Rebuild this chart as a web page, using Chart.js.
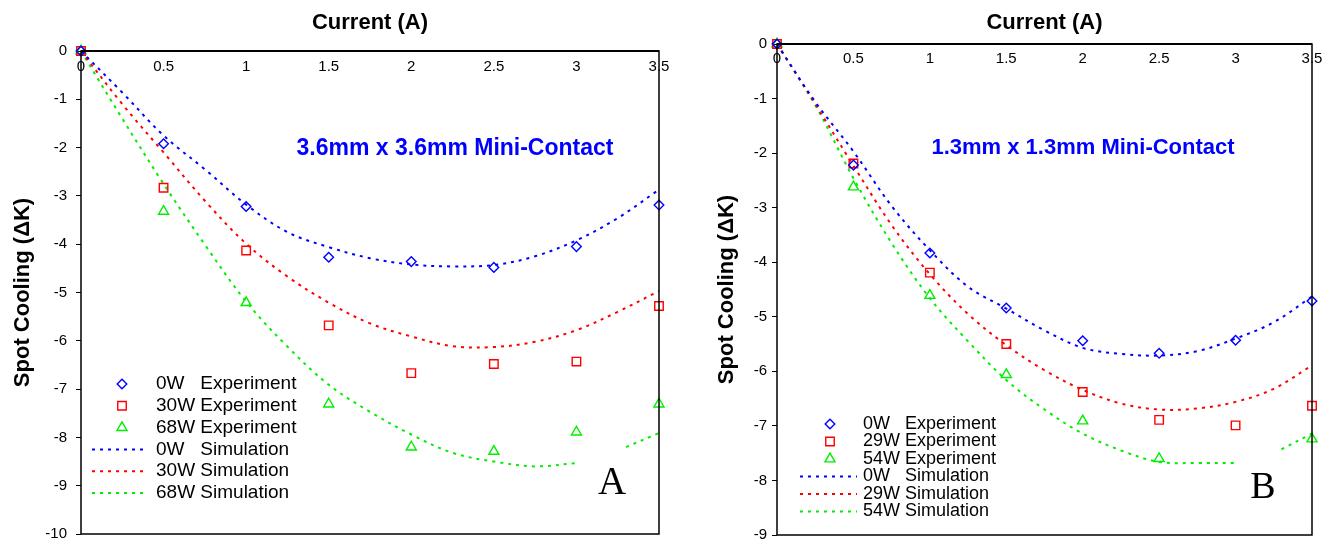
<!DOCTYPE html>
<html>
<head>
<meta charset="utf-8">
<title>Spot Cooling vs Current</title>
<script src="https://cdn.jsdelivr.net/npm/chart.js@4.4.1/dist/chart.umd.min.js"></script>
<style>
  html, body { margin: 0; padding: 0; background: #fff; }
  #wrap { position: relative; width: 1332px; height: 543px; overflow: hidden; }
  #chartA { position: absolute; left: 0; top: 0; }
  #chartB { position: absolute; left: 690px; top: 0; }
</style>
</head>
<body>
<div id="wrap">
  <canvas id="chartA" width="690" height="543"></canvas>
  <canvas id="chartB" width="642" height="543"></canvas>
</div>
<script>
// ===== DATA =====
const currents = [0, 0.5, 1, 1.5, 2, 2.5, 3, 3.5];
const simCurrents = [0, 0.25, 0.5, 0.75, 1, 1.25, 1.5, 1.75, 2, 2.25, 2.5, 2.75, 3, 3.25, 3.5];
// the hottest simulation curve has a break between 3.0 and 3.3 A
const simCurrentsSplit = [0, 0.25, 0.5, 0.75, 1, 1.25, 1.5, 1.75, 2, 2.25, 2.5, 2.75, 3, 3.15, 3.3, 3.5];

// panel A : 3.6mm x 3.6mm
const expA0W = [0, -1.92, -3.22, -4.27, -4.36, -4.48, -4.05, -3.19];
const expA30W = [0, -2.83, -4.13, -5.68, -6.67, -6.48, -6.43, -5.28];
const expA68W = [0, -3.32, -5.21, -7.31, -8.2, -8.29, -7.89, -7.31];
const simA0W = [0, -0.86, -1.75, -2.45, -3.18, -3.75, -4.06, -4.29, -4.42, -4.46, -4.43, -4.25, -3.92, -3.46, -2.87];
const simA30W = [0, -1.1, -2.1, -3.1, -3.99, -4.67, -5.21, -5.64, -5.91, -6.11, -6.13, -6.02, -5.78, -5.4, -4.97];
const simA68W = [0, -1.4, -2.75, -4.01, -5.19, -6.12, -6.91, -7.47, -7.94, -8.32, -8.5, -8.6, -8.53, null, -8.2, -7.91];

// panel B : 1.3mm x 1.3mm
const expB0W = [0, -2.22, -3.83, -4.84, -5.44, -5.67, -5.43, -4.71];
const expB29W = [0, -2.19, -4.19, -5.5, -6.38, -6.89, -6.99, -6.63];
const expB54W = [0, -2.62, -4.61, -6.06, -6.91, -7.6, null, -7.24];
const simB0W = [0, -1.06, -1.97, -2.97, -3.78, -4.45, -4.85, -5.25, -5.57, -5.68, -5.71, -5.63, -5.4, -5.1, -4.63];
const simB29W = [0, -1.1, -2.23, -3.32, -4.22, -4.95, -5.52, -5.98, -6.34, -6.59, -6.7, -6.68, -6.56, -6.32, -5.89];
const simB54W = [0, -1.12, -2.46, -3.65, -4.66, -5.45, -6.16, -6.7, -7.14, -7.45, -7.66, -7.68, -7.68, null, -7.43, -7.14];

const xTicks = [0, 0.5, 1, 1.5, 2, 2.5, 3, 3.5];

const BLUE = "#0000ff";
const RED = "#ff0000";
const GREEN = "#00ee00";

Chart.defaults.font.family = '"Liberation Sans", Arial, Helvetica, sans-serif';
Chart.defaults.color = "#000";

// ===== HELPERS =====
function pair(xs, ys) {
  return xs.map((x, i) => ({ x: x, y: ys[i] }));
}

function drawMarker(ctx, style, x, y, r) {
  ctx.beginPath();
  if (style === "rectRot") {
    ctx.moveTo(x - r, y);
    ctx.lineTo(x, y - r);
    ctx.lineTo(x + r, y);
    ctx.lineTo(x, y + r);
    ctx.closePath();
  } else if (style === "rect") {
    const s = r * Math.SQRT1_2;
    ctx.rect(x - s, y - s, 2 * s, 2 * s);
  } else {
    let a = 0;
    ctx.moveTo(x + Math.sin(a) * r, y - Math.cos(a) * r);
    a += (2 * Math.PI) / 3;
    ctx.lineTo(x + Math.sin(a) * r, y - Math.cos(a) * r);
    a += (2 * Math.PI) / 3;
    ctx.lineTo(x + Math.sin(a) * r, y - Math.cos(a) * r);
    ctx.closePath();
  }
  ctx.stroke();
}

function expSet(label, xs, ys, color, style, r) {
  return {
    label: label,
    data: pair(xs, ys),
    showLine: false,
    pointStyle: style,
    pointRadius: r,
    pointBorderWidth: 1.4,
    pointBorderColor: color,
    pointBackgroundColor: "rgba(0,0,0,0)",
    borderColor: color,
    backgroundColor: "rgba(0,0,0,0)",
    clip: false,
  };
}

function simSet(label, xs, ys, color) {
  return {
    label: label,
    data: pair(xs, ys),
    showLine: true,
    spanGaps: false,
    borderColor: color,
    borderWidth: 2,
    borderDash: [3, 5],
    tension: 0.35,
    pointRadius: 0,
    fill: false,
  };
}

// ===== PLUGINS =====
const frameBox = {
  id: "frameBox",
  afterDraw(chart) {
    const { ctx, chartArea: a } = chart;
    ctx.save();
    ctx.strokeStyle = "#000";
    ctx.lineWidth = 1.5;
    ctx.strokeRect(a.left, a.top, a.right - a.left, a.bottom - a.top);
    ctx.lineWidth = 2;
    ctx.beginPath();
    ctx.moveTo(a.left, a.top);
    ctx.lineTo(a.right, a.top);
    ctx.stroke();
    ctx.restore();
  },
};

const insetLegend = {
  id: "insetLegend",
  afterDraw(chart, args, opts) {
    const ctx = chart.ctx;
    ctx.save();
    ctx.font = opts.font;
    ctx.textBaseline = "middle";
    ctx.textAlign = "left";
    chart.data.datasets.forEach((ds, i) => {
      const y = opts.top + i * opts.rowH;
      ctx.strokeStyle = ds.borderColor;
      if (ds.showLine) {
        ctx.lineWidth = ds.borderWidth;
        ctx.setLineDash(ds.borderDash);
        ctx.beginPath();
        ctx.moveTo(opts.lineX0, y);
        ctx.lineTo(opts.lineX1, y);
        ctx.stroke();
        ctx.setLineDash([]);
      } else {
        ctx.lineWidth = ds.pointBorderWidth;
        drawMarker(ctx, ds.pointStyle, opts.markerX, y, ds.pointRadius);
      }
      ctx.fillStyle = "#000";
      ctx.fillText(ds.label, opts.textX, y);
    });
    ctx.restore();
  },
};

const textMarks = {
  id: "textMarks",
  afterDraw(chart, args, opts) {
    const ctx = chart.ctx;
    ctx.save();
    ctx.textAlign = "center";
    ctx.textBaseline = "middle";
    (opts.items || []).forEach((t) => {
      ctx.font = t.font;
      ctx.fillStyle = t.color;
      ctx.fillText(t.text, t.x, t.y);
    });
    ctx.restore();
  },
};

// ===== CHART BUILDER =====
function makeChart(id, p) {
  const ctx = document.getElementById(id).getContext("2d");
  return new Chart(ctx, {
    type: "scatter",
    data: { datasets: p.datasets },
    plugins: [frameBox, insetLegend, textMarks],
    options: {
      responsive: false,
      animation: false,
      devicePixelRatio: 1,
      layout: { padding: p.padding },
      plugins: {
        legend: { display: false },
        tooltip: { enabled: false },
        insetLegend: p.legend,
        textMarks: { items: p.marks },
      },
      scales: {
        x: {
          type: "linear",
          position: "top",
          min: 0,
          max: 3.5,
          afterBuildTicks: (s) => {
            s.ticks = xTicks.map((v) => ({ value: v }));
          },
          ticks: {
            mirror: true,
            padding: p.xTickPad,
            autoSkip: false,
            maxRotation: 0,
            font: { size: 15 },
            callback: (v) => String(v),
          },
          grid: { display: false },
          border: { display: false },
          title: {
            display: true,
            text: "Current (A)",
            font: { size: 22, weight: "bold" },
            padding: { top: 10, bottom: 0 },
          },
          afterFit: (s) => {
            s.height = p.xHeight;
            s.paddingLeft = 0;
            s.paddingRight = 0;
          },
        },
        y: {
          type: "linear",
          min: p.yMin,
          max: 0,
          ticks: {
            stepSize: 1,
            padding: p.yTickPad,
            font: { size: 15 },
          },
          grid: {
            display: true,
            drawOnChartArea: false,
            tickLength: 5,
            color: "#000",
          },
          border: { display: false },
          title: {
            display: true,
            text: "Spot Cooling (\u0394K)",
            font: { size: 22, weight: "bold" },
            padding: { top: p.yTitlePad, bottom: 0 },
          },
          afterFit: (s) => {
            s.width = p.yWidth;
            s.paddingTop = 0;
            s.paddingBottom = 0;
          },
        },
      },
    },
  });
}

// ===== PANEL A =====
makeChart("chartA", {
  yMin: -10,
  padding: { left: 0, top: 0, right: 31, bottom: 9 },
  xHeight: 51,
  yWidth: 81,
  xTickPad: 7,
  yTickPad: 9,
  yTitlePad: 10,
  datasets: [
    expSet("0W   Experiment", currents, expA0W, BLUE, "rectRot", 4.8),
    expSet("30W Experiment", currents, expA30W, RED, "rect", 6),
    expSet("68W Experiment", currents, expA68W, GREEN, "triangle", 5.8),
    simSet("0W   Simulation", simCurrents, simA0W, BLUE),
    simSet("30W Simulation", simCurrents, simA30W, RED),
    simSet("68W Simulation", simCurrentsSplit, simA68W, GREEN),
  ],
  legend: { lineX0: 92, lineX1: 148, markerX: 122, textX: 156, top: 384, rowH: 21.8, font: '19px "Liberation Sans", Arial, sans-serif' },
  marks: [
    { text: "3.6mm x 3.6mm Mini-Contact", x: 455, y: 149, font: 'bold 23px "Liberation Sans", Arial, sans-serif', color: BLUE },
    { text: "A", x: 612, y: 484, font: '39px "Liberation Serif", "Times New Roman", serif', color: "#000" },
  ],
});

// ===== PANEL B =====
makeChart("chartB", {
  yMin: -9,
  padding: { left: 0, top: 0, right: 20, bottom: 8 },
  xHeight: 44,
  yWidth: 87,
  xTickPad: 6,
  yTickPad: 5,
  yTitlePad: 24,
  datasets: [
    expSet("0W   Experiment", currents, expB0W, BLUE, "rectRot", 4.8),
    expSet("29W Experiment", currents, expB29W, RED, "rect", 6),
    expSet("54W Experiment", currents, expB54W, GREEN, "triangle", 5.8),
    simSet("0W   Simulation", simCurrents, simB0W, BLUE),
    simSet("29W Simulation", simCurrents, simB29W, RED),
    simSet("54W Simulation", simCurrentsSplit, simB54W, GREEN),
  ],
  legend: { lineX0: 110, lineX1: 167, markerX: 140, textX: 173, top: 424, rowH: 17.5, font: '18px "Liberation Sans", Arial, sans-serif' },
  marks: [
    { text: "1.3mm x 1.3mm Mini-Contact", x: 393, y: 148, font: 'bold 22px "Liberation Sans", Arial, sans-serif', color: BLUE },
    { text: "B", x: 573, y: 488, font: '38px "Liberation Serif", "Times New Roman", serif', color: "#000" },
  ],
});
</script>
</body>
</html>
